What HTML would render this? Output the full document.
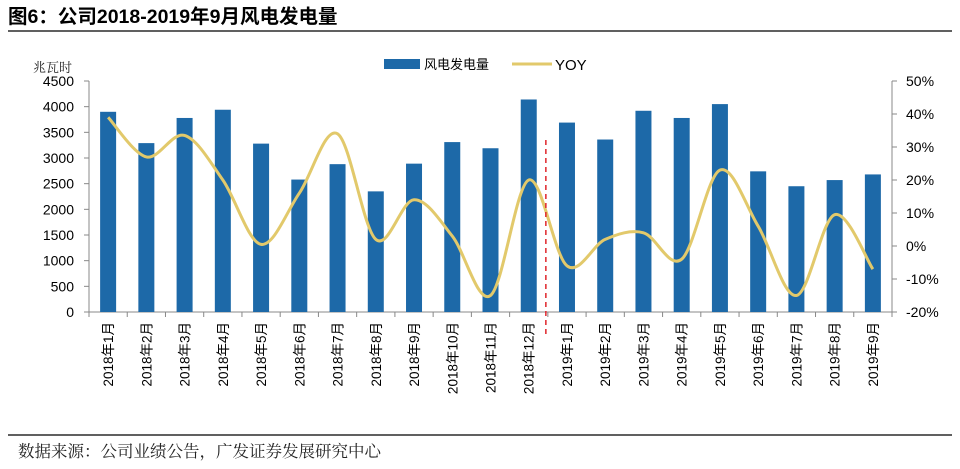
<!DOCTYPE html>
<html><head><meta charset="utf-8"><style>
body{margin:0;background:#fff;width:960px;height:464px;overflow:hidden;font-family:"Liberation Sans","Noto Sans CJK SC",sans-serif}
</style></head><body>
<svg id="c" width="960" height="464" xmlns="http://www.w3.org/2000/svg">
<text x="8" y="23" font-size="19.5" font-weight="bold" fill="#000" font-family="Liberation Sans,Noto Sans CJK SC,sans-serif">图6：公司2018-2019年9月风电发电量</text>
<line x1="8" y1="31" x2="952" y2="31" stroke="#000" stroke-width="1.2"/>
<line x1="8" y1="435" x2="952" y2="435" stroke="#000" stroke-width="1.2"/>
<text x="18" y="457" font-size="16.5" fill="#222" font-family="Liberation Serif,Noto Serif CJK SC,serif">数据来源：公司业绩公告，广发证券发展研究中心</text>
<text x="33" y="72" font-size="13" fill="#222" font-family="Noto Serif CJK SC,serif">兆瓦时</text>
<g id="g"></g>
</svg>
<script>
const categories=["2018年1月","2018年2月","2018年3月","2018年4月","2018年5月","2018年6月","2018年7月","2018年8月","2018年9月","2018年10月","2018年11月","2018年12月","2019年1月","2019年2月","2019年3月","2019年4月","2019年5月","2019年6月","2019年7月","2019年8月","2019年9月"];
const power=[3900,3290,3780,3940,3280,2580,2880,2350,2890,3310,3190,4140,3690,3360,3920,3780,4050,2740,2450,2570,2680];
const yoy=[39,27,33.5,20,0.5,16,34,2,14,3,-15,20,-6,2,4,-4,23,6,-15,9.5,-7];
const leftTicks=[0,500,1000,1500,2000,2500,3000,3500,4000,4500];
const rightTicks=[-20,-10,0,10,20,30,40,50];
const ns="http://www.w3.org/2000/svg",g=document.getElementById('g');
const X0=89,X1=892,Y0=312,YT=81,n=categories.length,step=(X1-X0)/n;
const yL=v=>Y0-(v/4500)*(Y0-YT);
const yR=v=>Y0-((v+20)/70)*(Y0-YT);
const xc=i=>X0+step*(i+0.5);
function mk(t,a){const e=document.createElementNS(ns,t);for(const k in a)e.setAttribute(k,a[k]);g.appendChild(e);return e;}
let e;
e=mk('line',{x1:X0,y1:YT,x2:X0,y2:Y0,stroke:'#888'});


e=mk('line',{x1:X1,y1:YT,x2:X1,y2:Y0,stroke:'#888'});


e=mk('line',{x1:X0,y1:Y0,x2:X1,y2:Y0,stroke:'#888'});


leftTicks.forEach(v=>{mk('line',{x1:X0-5,x2:X0,y1:yL(v),y2:yL(v),stroke:'#888'});
 e=mk('text',{x:X0-15,y:yL(v)+5,'font-size':14,'text-anchor':'end',fill:'#000'});e.textContent=v;
 
 });
rightTicks.forEach(v=>{mk('line',{x1:X1,x2:X1+5,y1:yR(v),y2:yR(v),stroke:'#888'});
 e=mk('text',{x:X1+14,y:yR(v)+5,'font-size':14,fill:'#000'});e.textContent=v+'%';
 
 });
for(let i=0;i<=n;i++)mk('line',{x1:X0+step*i,x2:X0+step*i,y1:Y0,y2:Y0+5,stroke:'#888'});
power.forEach((v,i)=>{e=mk('rect',{x:xc(i)-8,y:yL(v),width:16,height:Y0-yL(v),fill:'#1d69a8'});
 
 });
categories.forEach((c,i)=>{e=mk('text',{x:0,y:0,'font-size':13.5,'text-anchor':'end',fill:'#000',transform:`translate(${xc(i)+5},322) rotate(-90)`});e.textContent=c;
 
 });
const pts=yoy.map((v,i)=>[xc(i),yR(v)]);
let d='M'+pts[0][0]+','+pts[0][1];
for(let i=0;i<pts.length-1;i++){const p0=pts[Math.max(0,i-1)],p1=pts[i],p2=pts[i+1],p3=pts[Math.min(pts.length-1,i+2)];
 d+=` C${p1[0]+(p2[0]-p0[0])/6},${p1[1]+(p2[1]-p0[1])/6} ${p2[0]-(p3[0]-p1[0])/6},${p2[1]-(p3[1]-p1[1])/6} ${p2[0]},${p2[1]}`;}
e=mk('path',{d:d,fill:'none',stroke:'#e2c96b','stroke-width':3});


e=mk('line',{x1:X0+step*12-2,x2:X0+step*12-2,y1:140,y2:336,stroke:'#e0252b','stroke-width':1.5,'stroke-dasharray':'5,4'});


e=mk('rect',{x:384,y:59,width:36,height:10,fill:'#1d69a8'});


e=mk('text',{x:424,y:69,'font-size':13,fill:'#000'});e.textContent='风电发电量';


e=mk('line',{x1:512,x2:552,y1:64,y2:64,stroke:'#e2c96b','stroke-width':3});


e=mk('text',{x:555,y:70,'font-size':15,fill:'#000'});e.textContent='YOY';


</script>
</body></html>
